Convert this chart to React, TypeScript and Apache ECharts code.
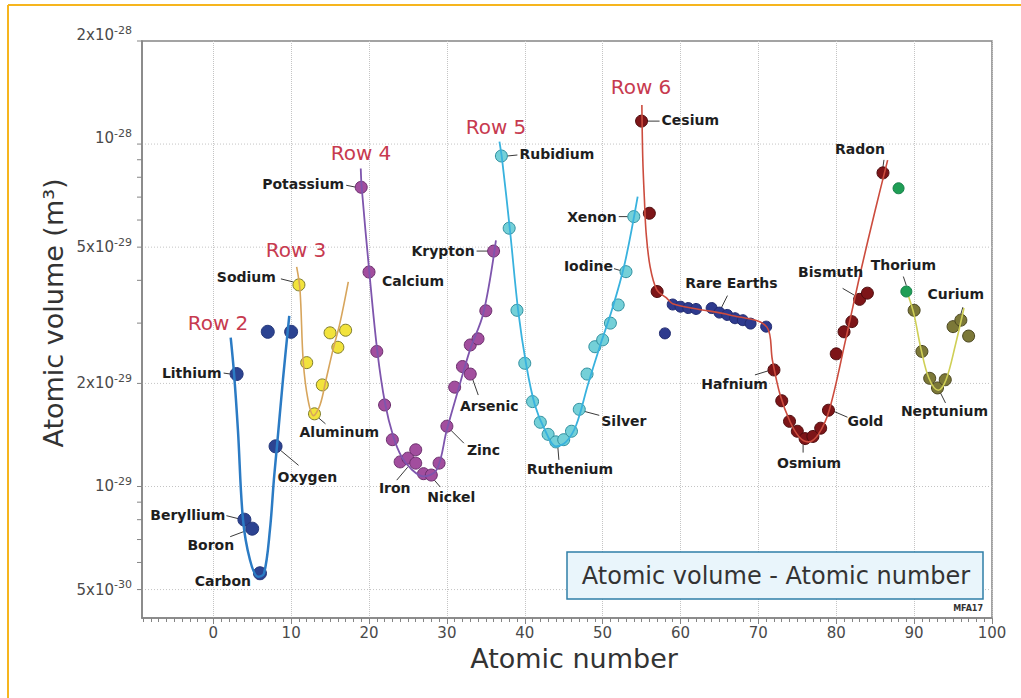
import React, { useEffect, useRef } from 'react';
import * as echarts from 'echarts';

// ---- measured atomic volumes, [atomic number, m^3] ----
const row2Points = [[3, 2.13e-29], [4, 8.0e-30], [5, 7.53e-30], [6, 5.58e-30], [7, 2.83e-29], [8, 1.31e-29], [10, 2.83e-29]];
const row3Points = [[11, 3.88e-29], [12, 2.3e-29], [13, 1.63e-29], [14, 1.98e-29], [15, 2.81e-29], [16, 2.55e-29], [17, 2.86e-29]];
const row4Points = [
  [19, 7.48e-29], [20, 4.23e-29], [21, 2.48e-29], [22, 1.73e-29], [23, 1.37e-29], [24, 1.18e-29], [25, 1.21e-29],
  [26, 1.17e-29], [26, 1.28e-29], [27, 1.09e-29], [28, 1.08e-29], [29, 1.17e-29], [30, 1.5e-29], [31, 1.95e-29],
  [32, 2.24e-29], [33, 2.13e-29], [33, 2.59e-29], [34, 2.7e-29], [35, 3.26e-29], [36, 4.87e-29],
];
const row5Points = [
  [37, 9.23e-29], [38, 5.68e-29], [39, 3.27e-29], [40, 2.29e-29], [41, 1.77e-29], [42, 1.54e-29], [43, 1.42e-29],
  [44, 1.35e-29], [45, 1.37e-29], [46, 1.45e-29], [47, 1.68e-29], [48, 2.13e-29], [49, 2.56e-29], [50, 2.68e-29],
  [51, 3.0e-29], [52, 3.39e-29], [53, 4.24e-29], [54, 6.14e-29],
];
const row6Points = [
  [55, 1.167e-28], [56, 6.28e-29], [57, 3.71e-29], [72, 2.19e-29], [73, 1.78e-29], [74, 1.55e-29], [75, 1.45e-29],
  [76, 1.38e-29], [77, 1.4e-29], [78, 1.48e-29], [79, 1.67e-29], [80, 2.44e-29], [81, 2.83e-29], [82, 3.03e-29],
  [83, 3.52e-29], [84, 3.67e-29], [86, 8.24e-29],
];
const rareEarthPoints = [
  [58, 2.8e-29], [59, 3.4e-29], [60, 3.35e-29], [61, 3.32e-29], [62, 3.3e-29], [64, 3.32e-29], [65, 3.22e-29],
  [66, 3.17e-29], [67, 3.1e-29], [68, 3.06e-29], [69, 2.99e-29], [71, 2.93e-29],
];
const greenPoints = [[88, 7.43e-29], [89, 3.71e-29]];
const row7Points = [[90, 3.27e-29], [91, 2.48e-29], [92, 2.07e-29], [93, 1.94e-29], [94, 2.05e-29], [95, 2.93e-29], [96, 3.06e-29], [97, 2.75e-29]];

// ---- hand-drawn trend curves through each row ----
const row2Curve = [[2.24, 2.72e-29], [2.66, 2.15e-29], [3.17, 1.46e-29], [3.82, 8.0e-30], [4.71, 6.11e-30], [5.74, 5.45e-30], [6.51, 5.56e-30], [7.28, 7.48e-30], [7.79, 1.05e-29], [8.18, 1.31e-29], [8.95, 2.05e-29], [9.76, 3.15e-29]];
const row3Curve = [[10.71, 4.38e-29], [11.14, 3.75e-29], [11.56, 2.31e-29], [12.17, 1.79e-29], [12.87, 1.61e-29], [13.71, 1.73e-29], [14.48, 2.05e-29], [15.38, 2.51e-29], [16.28, 3.01e-29], [17.34, 3.96e-29]];
const row4Curve = [[18.94, 8.49e-29], [19.06, 7.48e-29], [20.04, 4.23e-29], [21.07, 2.48e-29], [22.06, 1.75e-29], [23.12, 1.4e-29], [24.2, 1.22e-29], [25.49, 1.12e-29], [26.98, 1.07e-29], [28.7, 1.12e-29], [29.98, 1.46e-29], [31.44, 1.91e-29], [32.98, 2.51e-29], [34.69, 3.21e-29], [36.3, 5.23e-29]];
const row5Curve = [[36.75, 1.016e-28], [37.1, 8.98e-29], [38.1, 5.61e-29], [39.15, 3.27e-29], [40.2, 2.26e-29], [41.3, 1.73e-29], [42.6, 1.46e-29], [44.0, 1.31e-29], [45.3, 1.35e-29], [46.6, 1.51e-29], [48.1, 1.98e-29], [49.7, 2.59e-29], [51.2, 3.28e-29], [52.8, 4.44e-29], [54.5, 7.02e-29]];
const row6Curve = [[55.04, 1.3e-28], [55.16, 8.98e-29], [55.37, 6.87e-29], [55.59, 5.49e-29], [56.1, 4.38e-29], [56.96, 3.75e-29], [58.16, 3.56e-29], [59.0, 3.42e-29], [62.1, 3.3e-29], [66.3, 3.17e-29], [71.1, 2.92e-29], [71.8, 2.34e-29], [72.8, 1.85e-29], [74.1, 1.54e-29], [75.3, 1.39e-29], [76.4, 1.35e-29], [77.7, 1.42e-29], [79.1, 1.67e-29], [81.2, 2.68e-29], [83.1, 4.21e-29], [85.0, 6.41e-29], [86.6, 8.98e-29]];
const row7Curve = [[89.3, 3.58e-29], [90.0, 3.17e-29], [90.9, 2.51e-29], [91.9, 2.07e-29], [93.1, 1.91e-29], [94.1, 2.05e-29], [95.3, 2.59e-29], [96.4, 3.32e-29]];

// ---- axes ----
const X_MIN = -9.15;
const X_MAX = 100;
const Y_MIN = 4.13e-30;
const Y_MAX = 2e-28;
const xLabelTicks = [0, 10, 20, 30, 40, 50, 60, 70, 80, 90, 100];
const xMinorTicks: number[] = [];
for (let t = -9; t <= 100; t++) xMinorTicks.push(t);
const yLabelTicks = [5e-30, 1e-29, 2e-29, 5e-29, 1e-28, 2e-28];
const yMinorTicks = [5e-30, 6e-30, 7e-30, 8e-30, 9e-30, 1e-29, 2e-29, 3e-29, 4e-29, 5e-29, 6e-29, 7e-29, 8e-29, 9e-29, 1e-28, 2e-28];

const FONT = '"DejaVu Sans", "Liberation Sans", sans-serif';
const AXIS_GREY = '#858585';
const GRID_GREY = '#c4c4c4';
const TICK_TEXT = '#4a4a4a';

type Note = {
  text: string;
  pts: number[][];
  z: number;
  nth?: number;
  align: 'left' | 'right' | 'center';
  dx: number;
  dy: number;
  lead?: number[];
};

// element name labels: text offset from the point and a short leader line
const notes: Note[] = [
  { text: 'Lithium', pts: row2Points, z: 3, align: 'right', dx: -15, dy: -1, lead: [-13, -1, -6, 0] },
  { text: 'Beryllium', pts: row2Points, z: 4, align: 'right', dx: -19, dy: -5, lead: [-18, -4, -6, -1] },
  { text: 'Boron', pts: row2Points, z: 5, align: 'right', dx: -18, dy: 16, lead: [-22, 8, -6, 2] },
  { text: 'Carbon', pts: row2Points, z: 6, align: 'right', dx: -9, dy: 8 },
  { text: 'Oxygen', pts: row2Points, z: 8, align: 'left', dx: 2, dy: 31, lead: [5, 4, 23, 19] },
  { text: 'Sodium', pts: row3Points, z: 11, align: 'right', dx: -23, dy: -8, lead: [-18, -6, -6, -3] },
  { text: 'Aluminum', pts: row3Points, z: 13, align: 'left', dx: -15, dy: 18, lead: [4, 4, 11, 10] },
  { text: 'Potassium', pts: row4Points, z: 19, align: 'right', dx: -17, dy: -3, lead: [-15, -2, -5, 0] },
  { text: 'Calcium', pts: row4Points, z: 20, align: 'left', dx: 13, dy: 9 },
  { text: 'Iron', pts: row4Points, z: 26, align: 'center', dx: -21, dy: 25, lead: [-19, 17, -8, 4] },
  { text: 'Nickel', pts: row4Points, z: 28, align: 'center', dx: 20, dy: 22, lead: [3, 5, 9, 12] },
  { text: 'Zinc', pts: row4Points, z: 30, align: 'left', dx: 20, dy: 24, lead: [3, 3, 17, 17] },
  { text: 'Arsenic', pts: row4Points, z: 33, align: 'center', dx: 19, dy: 32, lead: [2, 4, 8, 21] },
  { text: 'Krypton', pts: row4Points, z: 36, align: 'right', dx: -19, dy: 0, lead: [-17, 0, -6, 0] },
  { text: 'Rubidium', pts: row5Points, z: 37, align: 'left', dx: 18, dy: -2, lead: [6, 0, 16, -1] },
  { text: 'Ruthenium', pts: row5Points, z: 44, align: 'center', dx: 14, dy: 27, lead: [2, 6, 3, 18] },
  { text: 'Silver', pts: row5Points, z: 47, align: 'left', dx: 22, dy: 12, lead: [5, 2, 20, 6] },
  { text: 'Iodine', pts: row5Points, z: 53, align: 'right', dx: -13, dy: -6, lead: [-12, -3, -5, -1] },
  { text: 'Xenon', pts: row5Points, z: 54, align: 'right', dx: -17, dy: 0, lead: [-15, 0, -6, 0] },
  { text: 'Cesium', pts: row6Points, z: 55, align: 'left', dx: 20, dy: -1, lead: [6, 0, 18, 0] },
  { text: 'Rare Earths', pts: rareEarthPoints, z: 65, align: 'center', dx: 12, dy: -30, lead: [8, -17, 2, -5] },
  { text: 'Hafnium', pts: row6Points, z: 72, align: 'right', dx: -6, dy: 14, lead: [-19, 5, -6, 1] },
  { text: 'Osmium', pts: row6Points, z: 76, align: 'center', dx: 4, dy: 24, lead: [-2, 6, -2, 14] },
  { text: 'Gold', pts: row6Points, z: 79, align: 'left', dx: 19, dy: 11, lead: [5, 1, 19, 7] },
  { text: 'Bismuth', pts: row6Points, z: 83, align: 'center', dx: -29, dy: -27, lead: [-17, -11, -5, -4] },
  { text: 'Radon', pts: row6Points, z: 86, align: 'center', dx: -23, dy: -24, lead: [1, -13, 0, -6] },
  { text: 'Thorium', pts: greenPoints, z: 89, align: 'center', dx: -3, dy: -27, lead: [-3, -15, 0, -6] },
  { text: 'Curium', pts: row7Points, z: 96, align: 'center', dx: -5, dy: -26, lead: [2, -13, 0, -6] },
  { text: 'Neptunium', pts: row7Points, z: 93, align: 'center', dx: 7, dy: 23, lead: [3, 5, 8, 15] },
];

const rowTitles = [
  { text: 'Row 2', x: 218, y: 323 },
  { text: 'Row 3', x: 296, y: 250 },
  { text: 'Row 4', x: 361, y: 153 },
  { text: 'Row 5', x: 496, y: 127 },
  { text: 'Row 6', x: 641, y: 87 },
];

// "2x10" + raised "-28" for each log tick
const splitY = (v: number) => {
  const exp = Math.floor(Math.log10(v) + 1e-6);
  const mant = Math.round(v / Math.pow(10, exp));
  return { base: mant === 1 ? '10' : `${mant}x10`, exp: String(exp) };
};
// the two uppermost tick texts sit a little above their grid lines
const yLabelLift = (v: number) => (v >= 1e-28 ? -6 : 0);

const curve = (data: number[][], color: string, width: number) => ({
  type: 'line',
  data,
  smooth: 0.35,
  showSymbol: false,
  symbol: 'none',
  silent: true,
  lineStyle: { color, width },
});

const dots = (data: number[][], color: string, border: string, size: number, borderWidth = 1) => ({
  type: 'scatter',
  data,
  symbol: 'circle',
  symbolSize: size,
  silent: true,
  itemStyle: { color, borderColor: border, borderWidth, opacity: 1 },
});

function buildOption() {
  return {
    animation: false,
    grid: {
      left: 142,
      top: 41,
      right: 29,
      bottom: 80,
      show: true,
      borderColor: AXIS_GREY,
      borderWidth: 1.5,
      backgroundColor: 'transparent',
    },
    xAxis: [
      {
        type: 'value',
        min: X_MIN,
        max: X_MAX,
        position: 'bottom',
        axisLine: { show: true, onZero: false, lineStyle: { color: AXIS_GREY, width: 1.5 } },
        axisTick: { show: true, customValues: xMinorTicks, length: 4, lineStyle: { color: AXIS_GREY, width: 1 } },
        axisLabel: { show: false },
        splitLine: { show: false },
      },
      {
        type: 'value',
        min: X_MIN,
        max: X_MAX,
        position: 'bottom',
        axisLine: { show: false, onZero: false },
        axisTick: { show: true, customValues: xLabelTicks, length: 6, lineStyle: { color: AXIS_GREY, width: 1 } },
        axisLabel: {
          customValues: xLabelTicks,
          margin: 7,
          color: TICK_TEXT,
          fontFamily: FONT,
          fontSize: 15,
        },
        splitLine: { show: true, lineStyle: { color: GRID_GREY, type: 'dotted', width: 1 } },
      },
    ],
    yAxis: {
      type: 'log',
      logBase: 10,
      min: Y_MIN,
      max: Y_MAX,
      position: 'left',
      axisLine: { show: true, onZero: false, lineStyle: { color: AXIS_GREY, width: 1.5 } },
      axisTick: { show: false },
      axisLabel: { show: false },
      splitLine: { show: false },
    },
    series: [
      curve(row2Curve, '#2b7bc4', 2.5),
      curve(row3Curve, '#d7a55c', 1.6),
      curve(row4Curve, '#7e55ad', 1.8),
      curve(row5Curve, '#38b2de', 1.8),
      curve(row6Curve, '#cc4c3e', 1.6),
      curve(row7Curve, '#cfcf55', 1.6),
      dots(row2Points, '#2c4391', '#24377a', 13),
      dots(row3Points, '#f2e33c', '#7d7a2a', 12),
      dots(row4Points, '#a24e9e', '#6b2f6d', 12),
      dots(row5Points, '#74d0d8', '#2f8f9f', 12),
      dots(rareEarthPoints, '#2e3a8e', '#222c70', 11),
      dots(row6Points, '#7d1518', '#4d0c0e', 12),
      dots(greenPoints, '#1f9e55', '#17804a', 11),
      dots(row7Points, '#7c7838', '#4a4620', 12),
    ],
  };
}

const txt = (x: number, y: number, text: string, font: string, fill: string, align: string, extra: any = {}) => ({
  type: 'text',
  z: 100,
  x,
  y,
  ...extra,
  style: { text, font, fill, align, verticalAlign: 'middle', textAlign: align, textVerticalAlign: 'middle' },
});

function buildGraphics(toPx: (z: number, v: number) => number[]) {
  const els: any[] = [];
  const [leftX] = toPx(X_MIN, Y_MIN);
  const [rightX] = toPx(X_MAX, Y_MIN);
  const expLeft = leftX - 28;

  // log-scale y axis: dotted grid lines, ticks and labels placed by the axis scale
  yLabelTicks.forEach((v) => {
    const y = toPx(X_MIN, v)[1];
    if (v < Y_MAX) {
      els.push({
        type: 'line', z: 0, silent: true,
        shape: { x1: leftX, y1: y, x2: rightX, y2: y },
        style: { stroke: GRID_GREY, lineWidth: 1, lineDash: [1, 2] },
      });
    }
    const { base, exp } = splitY(v);
    const ly = y + yLabelLift(v);
    els.push(txt(expLeft, ly, base, `15px ${FONT}`, TICK_TEXT, 'right'));
    els.push(txt(expLeft, ly - 5, exp, `11px ${FONT}`, TICK_TEXT, 'left'));
  });
  yMinorTicks.forEach((v) => {
    const y = toPx(X_MIN, v)[1];
    els.push({
      type: 'line', z: 100, silent: true,
      shape: { x1: leftX - 5, y1: y, x2: leftX, y2: y },
      style: { stroke: AXIS_GREY, lineWidth: 1 },
    });
  });

  // orange frame round the figure
  els.push({ type: 'line', z: 100, shape: { x1: 8, y1: 5, x2: 1021, y2: 5 }, style: { stroke: '#f6b51e', lineWidth: 2 } });
  els.push({ type: 'line', z: 100, shape: { x1: 8, y1: 5, x2: 8, y2: 698 }, style: { stroke: '#f6b51e', lineWidth: 2 } });

  // axis titles
  els.push(txt(53, 313, 'Atomic volume (m³)', `27px ${FONT}`, '#333', 'center', { rotation: Math.PI / 2 }));
  els.push(txt(574, 658, 'Atomic number', `27px ${FONT}`, '#333', 'center'));

  // caption box
  els.push({ type: 'rect', z: 100, shape: { x: 567, y: 552, width: 416, height: 47 }, style: { fill: '#e9f5fb', stroke: '#2f7fa8', lineWidth: 1.5 } });
  els.push(txt(776, 576, 'Atomic volume - Atomic number', `24px ${FONT}`, '#333', 'center', { z: 101 }));
  els.push(txt(983, 608, 'MFA17', `bold 8px ${FONT}`, '#333', 'right', { z: 101 }));

  // row titles
  rowTitles.forEach((r) => {
    els.push(txt(r.x, r.y, r.text, `20px ${FONT}`, '#c73a4f', 'center'));
  });

  // element labels with leader lines
  notes.forEach((n) => {
    const hit = n.pts.filter((p) => p[0] === n.z)[n.nth ?? 0];
    if (!hit) return;
    const [px, py] = toPx(hit[0], hit[1]);
    if (n.lead) {
      els.push({
        type: 'line', z: 1, silent: true,
        shape: { x1: px + n.lead[0], y1: py + n.lead[1], x2: px + n.lead[2], y2: py + n.lead[3] },
        style: { stroke: '#3a3a3a', lineWidth: 1 },
      });
    }
    els.push(txt(px + n.dx, py + n.dy, n.text, `bold 14px ${FONT}`, '#1e1e1e', n.align));
  });

  return els;
}

export default function App() {
  const ref = useRef<HTMLDivElement>(null);
  useEffect(() => {
    if (!ref.current) return;
    const chart = echarts.init(ref.current, null, { renderer: 'svg' });
    chart.setOption(buildOption() as any);
    const toPx = (z: number, v: number) =>
      chart.convertToPixel({ xAxisIndex: 0, yAxisIndex: 0 } as any, [z, v]) as number[];
    chart.setOption({ graphic: { elements: buildGraphics(toPx) } } as any);
    return () => chart.dispose();
  }, []);
  return (
    <div
      ref={ref}
      style={{ position: 'fixed', left: 0, top: 0, width: 1021, height: 698, background: '#fff' }}
    />
  );
}
